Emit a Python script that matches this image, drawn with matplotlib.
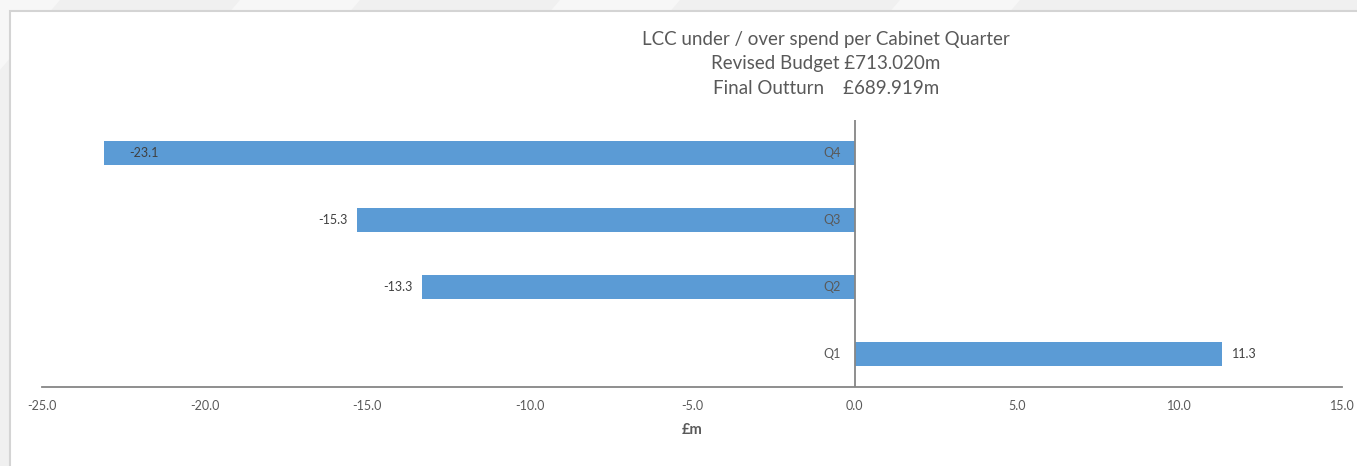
import matplotlib.pyplot as plt
from matplotlib.patches import Rectangle, Polygon

# quarterly under / over spend, £m
quarters = ["Q1", "Q2", "Q3", "Q4"]
spend = [11.3, -13.3, -15.3, -23.1]
x_ticks = [-25.0, -20.0, -15.0, -10.0, -5.0, 0.0, 5.0, 10.0, 15.0]
title_lines = [
    "LCC under / over spend per Cabinet Quarter",
    "Revised Budget £713.020m",
    "Final Outturn    £689.919m",
]

W, H = 1357, 466
plt.rcParams['font.family'] = ['Lato', 'DejaVu Sans']

fig = plt.figure(figsize=(W / 100, H / 100), dpi=100)
fig.patch.set_facecolor('#f0f0f0')

# faint slide background stripes behind the chart box
for x0 in [-60, 240, 560, 900]:
    fig.patches.append(Polygon([(x0 / W, 1), ((x0 + 120) / W, 1),
                                ((x0 - 40) / W, 0.6), ((x0 - 160) / W, 0.6)],
                               closed=True, transform=fig.transFigure,
                               facecolor='#f7f7f7', edgecolor='none', zorder=0))

# white chart box with light border
fig.patches.append(Rectangle((10 / W, -0.01), (W - 8) / W, (H - 11) / H + 0.01,
                             transform=fig.transFigure, facecolor='white',
                             edgecolor='#d4d4d4', linewidth=1.5, zorder=1))

ax = fig.add_axes([42 / W, (H - 387) / H, 1300 / W, 267 / H])
ax.set_facecolor('none')
ax.set_zorder(2)

bar_color = '#5b9bd5'
ypos = list(range(len(quarters)))
ax.barh(ypos, spend, height=0.36, color=bar_color, zorder=3)

ax.set_xlim(-25, 15)
ax.set_ylim(-0.5, 3.5)
ax.set_xticks(x_ticks)
ax.set_xticklabels([f"{v:.1f}" for v in x_ticks], fontsize=9, color='#595959')
ax.tick_params(axis='x', length=0, pad=9)
ax.set_yticks([])

for side in ['top', 'right', 'left']:
    ax.spines[side].set_visible(False)
ax.spines['bottom'].set_color('#868686')
ax.spines['bottom'].set_linewidth(1.3)
ax.axvline(0, color='#868686', linewidth=1.3, zorder=4)

# category labels next to the zero line
for y, q in zip(ypos, quarters):
    ax.annotate(q, (0, y), xytext=(-10, 0), textcoords='offset points',
                ha='right', va='center', fontsize=9, color='#595959', zorder=5)

# value labels; the largest overspend sits inside its bar
for y, v in zip(ypos, spend):
    if v == min(spend):
        ax.annotate(f"{v:.1f}", (v, y), xytext=(18, 0), textcoords='offset points',
                    ha='left', va='center', fontsize=9, color='#404040', zorder=5)
    elif v < 0:
        ax.annotate(f"{v:.1f}", (v, y), xytext=(-7, 0), textcoords='offset points',
                    ha='right', va='center', fontsize=9, color='#404040', zorder=5)
    else:
        ax.annotate(f"{v:.1f}", (v, y), xytext=(7, 0), textcoords='offset points',
                    ha='left', va='center', fontsize=9, color='#404040', zorder=5)

ax.set_xlabel("£m", fontsize=10.5, fontweight='bold', color='#595959', labelpad=8)

for i, line in enumerate(title_lines):
    fig.text(826 / W, 1 - (39 + i * 25) / H, line, ha='center', va='center',
             fontsize=13.5, color='#595959', zorder=5)

fig.savefig('out.png', dpi=100, facecolor=fig.get_facecolor())
